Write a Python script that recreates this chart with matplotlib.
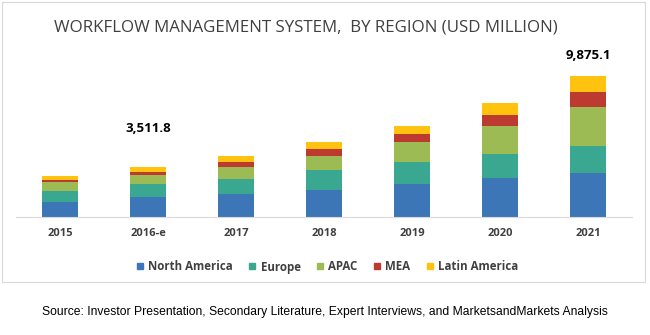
import numpy as np
import matplotlib.pyplot as plt
from matplotlib.patches import Rectangle
from matplotlib.lines import Line2D

# datos (USD millones)
years = ["2015", "2016-e", "2017", "2018", "2019", "2020", "2021"]
regions = ["North America", "Europe", "APAC", "MEA", "Latin America"]
north_america = [1070, 1380, 1630, 1910, 2330, 2710, 3100]
europe = [770, 920, 1030, 1350, 1540, 1700, 1890]
apac = [580, 640, 840, 1030, 1400, 1980, 2730]
mea = [160, 240, 330, 490, 560, 750, 1030]
latin_america = [300, 332, 420, 440, 560, 820, 1125]
labels_total = {"2016-e": "3,511.8", "2021": "9,875.1"}
label_offset = {"2016-e": 32, "2021": 14}

colors = ["#3D76B7", "#3AA890", "#9CBB55", "#BC3A2F", "#FFC20E"]
series = [north_america, europe, apac, mea, latin_america]

fig = plt.figure(figsize=(6.5, 3.35), dpi=100)
W, H = 650, 335

# marco del grafico
fig.patches.append(Rectangle((2 / W, 1 - 282 / H), 643 / W, 280 / H,
                             transform=fig.transFigure, fill=False,
                             edgecolor="#D9D9D9", linewidth=0.8))

ax = fig.add_axes([16 / W, 1 - 217 / H, 616 / W, 167 / H])
x = np.arange(len(years))
bottom = np.zeros(len(years))
for vals, col, name in zip(series, colors, regions):
    ax.bar(x, vals, width=0.4, bottom=bottom, color=col, label=name)
    bottom += np.array(vals)

for i, yr in enumerate(years):
    if yr in labels_total:
        ax.annotate(labels_total[yr], (x[i], bottom[i]),
                    textcoords="offset pixels", xytext=(0, label_offset[yr]),
                    ha="center", va="bottom", fontsize=9.5, fontweight="bold",
                    family="Open Sans", color="black")

ax.set_xlim(-0.5, len(years) - 0.5)
ax.set_ylim(0, 11700)
ax.set_yticks([])
ax.set_xticks(x)
ax.set_xticklabels(years, fontsize=8, fontweight="bold", family="Open Sans",
                   color="#404040")
ax.tick_params(axis="x", length=0, pad=8)
for s in ["top", "right", "left"]:
    ax.spines[s].set_visible(False)
ax.spines["bottom"].set_color("#D9D9D9")
ax.spines["bottom"].set_linewidth(0.8)

fig.text(306 / W, 1 - 28 / H, "WORKFLOW MANAGEMENT SYSTEM,  BY REGION (USD MILLION)",
         ha="center", va="center", fontsize=12.2, family="Open Sans",
         color="#404040")

handles = [Line2D([], [], marker="s", linestyle="", markersize=5,
                  markerfacecolor=c, markeredgecolor=c) for c in colors]
leg = fig.legend(handles, regions, loc="center", bbox_to_anchor=(327 / W, 1 - 267 / H),
                 ncol=5, frameon=False, handlelength=0.7, handletextpad=0.35,
                 columnspacing=1.35,
                 prop={"family": "Open Sans", "weight": "bold", "size": 8.3})
for t in leg.get_texts():
    t.set_color("#404040")

fig.text(325 / W, 1 - 312 / H,
         "Source: Investor Presentation, Secondary Literature, Expert Interviews, and MarketsandMarkets Analysis",
         ha="center", va="center", fontsize=8.75, family="Liberation Sans",
         color="black")

fig.savefig("out.png", dpi=100)
